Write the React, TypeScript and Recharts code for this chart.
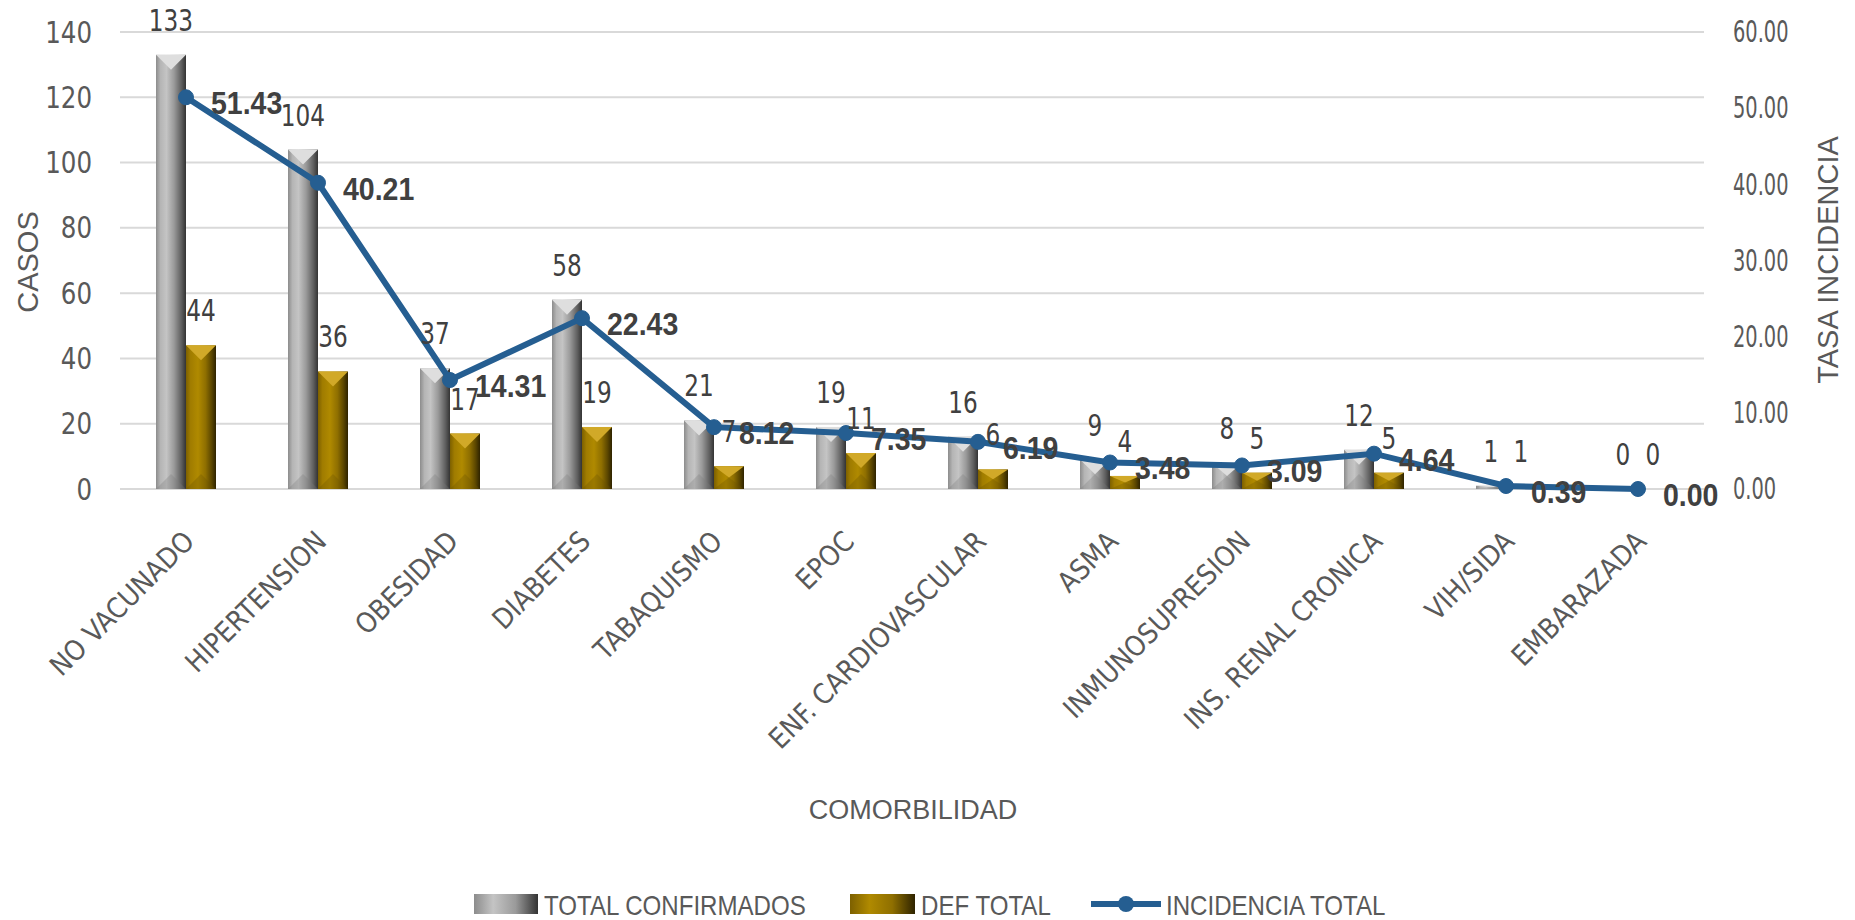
import React from 'react'
import {
  ComposedChart,
  Bar,
  Line,
  XAxis,
  YAxis,
  CartesianGrid,
  LabelList
} from 'recharts'

const categories = [
  'NO VACUNADO',
  'HIPERTENSION',
  'OBESIDAD',
  'DIABETES',
  'TABAQUISMO',
  'EPOC',
  'ENF. CARDIOVASCULAR',
  'ASMA',
  'INMUNOSUPRESION',
  'INS. RENAL CRONICA',
  'VIH/SIDA',
  'EMBARAZADA'
]
const totalConfirmados = [133, 104, 37, 58, 21, 19, 16, 9, 8, 12, 1, 0]
const defTotal = [44, 36, 17, 19, 7, 11, 6, 4, 5, 5, 1, 0]
const incidenciaTotal = [51.43, 40.21, 14.31, 22.43, 8.12, 7.35, 6.19, 3.48, 3.09, 4.64, 0.39, 0.0]
const casosTicks = [0, 20, 40, 60, 80, 100, 120, 140]
const tasaTicks = [0, 10, 20, 30, 40, 50, 60]

const data = categories.map((name, i) => ({
  name,
  total: totalConfirmados[i],
  def: defTotal[i],
  inc: incidenciaTotal[i]
}))

const COND = "'DejaVu Sans Condensed', 'Liberation Sans', sans-serif"
const SANS = "'Liberation Sans', Arial, sans-serif"
const TEXT = '#595959'
const LABEL = '#404040'
const BLUE = '#255e91'

// barra con efecto bisel (estilo Excel)
function bevelBar(gradId: string, top: string, bottom: string) {
  return (props: any) => {
    const { x, y, width, height } = props
    if (!height || height <= 0) return <g />
    const d = Math.min(width / 2, height / 2, 15)
    return (
      <g>
        <rect x={x} y={y} width={width} height={height} fill={`url(#${gradId})`} />
        <polygon points={`${x},${y} ${x + width},${y} ${x + width / 2},${y + d}`} fill={top} />
        <polygon
          points={`${x},${y + height} ${x + width},${y + height} ${x + width / 2},${y + height - d}`}
          fill={bottom}
          opacity={0.3}
        />
      </g>
    )
  }
}

const XTick = (props: any) => {
  const { x, y, payload } = props
  return (
    <g transform={`translate(${x + 10},${y + 46})`}>
      <text x={0} y={0} transform="rotate(-45)" textAnchor="end" fill={TEXT} fontSize={28} fontFamily={COND}>
        {payload.value}
      </text>
    </g>
  )
}

const LeftTick = (props: any) => {
  const { x, y, payload } = props
  return (
    <text transform={`translate(${x},${y}) scale(0.88,1)`} textAnchor="end" dominantBaseline="central" fill={TEXT} fontSize={31} fontFamily={COND}>
      {payload.value}
    </text>
  )
}

const RightTick = (props: any) => {
  const { x, y, payload } = props
  return (
    <text transform={`translate(${x},${y}) scale(0.72,1)`} textAnchor="start" dominantBaseline="central" fill={TEXT} fontSize={30} fontFamily={COND}>
      {Number(payload.value).toFixed(2)}
    </text>
  )
}

const BarLabel = (props: any) => {
  const { x, y, width, value } = props
  return (
    <text transform={`translate(${x + width / 2},${y - 24}) scale(0.86,1)`} textAnchor="middle" fill={LABEL} fontSize={30} fontFamily={COND}>
      {value}
    </text>
  )
}

const IncLabel = (props: any) => {
  const { x, y, value } = props
  return (
    <text transform={`translate(${x + 25},${y + 6}) scale(0.92,1)`} fill={LABEL} fontSize={31} fontWeight="bold" fontFamily={SANS} dominantBaseline="central">
      {Number(value).toFixed(2)}
    </text>
  )
}

const legendText: React.CSSProperties = {
  position: 'absolute',
  top: 889,
  fontSize: 28,
  lineHeight: '34px',
  color: TEXT,
  fontFamily: SANS,
  whiteSpace: 'nowrap',
  transform: 'scaleX(0.86)',
  transformOrigin: 'left center'
}

export default function App() {
  return (
    <div style={{ position: 'relative', width: 1855, height: 920, fontFamily: COND, background: '#fff' }}>
      <style>{'body{margin:0}'}</style>
      <ComposedChart
        width={1855}
        height={920}
        data={data}
        margin={{ top: 32, right: 0, bottom: 0, left: 0 }}
        barGap={0}
        barSize={30}
      >
        <defs>
          <linearGradient id="grayBar" x1="0" y1="0" x2="1" y2="0">
            <stop offset="0%" stopColor="#8c8c8c" />
            <stop offset="15%" stopColor="#b5b5b5" />
            <stop offset="35%" stopColor="#c4c4c4" />
            <stop offset="60%" stopColor="#9a9a9a" />
            <stop offset="85%" stopColor="#5e5e5e" />
            <stop offset="100%" stopColor="#333333" />
          </linearGradient>
          <linearGradient id="goldBar" x1="0" y1="0" x2="1" y2="0">
            <stop offset="0%" stopColor="#7d6000" />
            <stop offset="15%" stopColor="#a07c00" />
            <stop offset="40%" stopColor="#b08a00" />
            <stop offset="65%" stopColor="#8f6f00" />
            <stop offset="85%" stopColor="#5c4700" />
            <stop offset="100%" stopColor="#2e2300" />
          </linearGradient>
        </defs>
        <CartesianGrid yAxisId="left" vertical={false} stroke="#d9d9d9" strokeWidth={2} />
        <XAxis
          dataKey="name"
          height={431}
          interval={0}
          axisLine={false}
          tickLine={false}
          tick={<XTick />}
          label={() => (
            <text x={913} y={810} textAnchor="middle" dominantBaseline="central" fill={TEXT} fontSize={27} fontFamily={SANS}>
              COMORBILIDAD
            </text>
          )}
        />
        <YAxis
          yAxisId="left"
          width={120}
          domain={[0, 140]}
          ticks={casosTicks}
          axisLine={false}
          tickLine={false}
          tickSize={0}
          tickMargin={28}
          tick={<LeftTick />}
          label={() => (
            <text x={28} y={262} transform="rotate(-90 28 262)" textAnchor="middle" dominantBaseline="central" fill={TEXT} fontSize={29} fontFamily={SANS}>
              CASOS
            </text>
          )}
        />
        <YAxis
          yAxisId="right"
          orientation="right"
          width={151}
          domain={[0, 60]}
          ticks={tasaTicks}
          axisLine={false}
          tickLine={false}
          tickSize={0}
          tickMargin={29}
          tick={<RightTick />}
          label={() => (
            <text x={1828} y={260} transform="rotate(-90 1828 260)" textAnchor="middle" dominantBaseline="central" fill={TEXT} fontSize={29} fontFamily={SANS}>
              TASA  INCIDENCIA
            </text>
          )}
        />
        <Bar yAxisId="left" dataKey="total" isAnimationActive={false} shape={bevelBar('grayBar', '#dedede', '#7a7a7a')}>
          <LabelList dataKey="total" content={<BarLabel />} />
        </Bar>
        <Bar yAxisId="left" dataKey="def" isAnimationActive={false} shape={bevelBar('goldBar', '#d1a928', '#6b5200')}>
          <LabelList dataKey="def" content={<BarLabel />} />
        </Bar>
        <Line
          yAxisId="right"
          dataKey="inc"
          stroke={BLUE}
          strokeWidth={6}
          dot={{ r: 7.5, fill: BLUE, stroke: BLUE, strokeWidth: 1 }}
          isAnimationActive={false}
        >
          <LabelList dataKey="inc" content={<IncLabel />} />
        </Line>
      </ComposedChart>
      <span style={{ position: 'absolute', left: 474, top: 894, width: 64, height: 20, background: 'linear-gradient(to right, #8c8c8c, #c4c4c4 30%, #9a9a9a 65%, #333)' }} />
      <span style={{ ...legendText, left: 544 }}>TOTAL CONFIRMADOS</span>
      <span style={{ position: 'absolute', left: 850, top: 894, width: 65, height: 20, background: 'linear-gradient(to right, #7d6000, #b08a00 30%, #8f6f00 65%, #2e2300)' }} />
      <span style={{ ...legendText, left: 921 }}>DEF TOTAL</span>
      <svg width={70} height={20} style={{ position: 'absolute', left: 1091, top: 894 }}>
        <line x1={0} y1={10} x2={70} y2={10} stroke={BLUE} strokeWidth={6} />
        <circle cx={35} cy={10} r={8} fill={BLUE} />
      </svg>
      <span style={{ ...legendText, left: 1166 }}>INCIDENCIA TOTAL</span>
    </div>
  )
}
